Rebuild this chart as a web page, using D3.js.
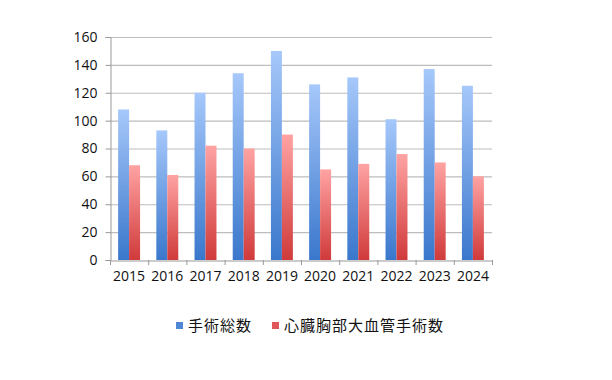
<!DOCTYPE html>
<html><head><meta charset="utf-8">
<script src="https://cdn.jsdelivr.net/npm/d3@7"></script>
<style>body{margin:0;background:#fff}</style>
</head><body>
<svg id="c" width="612" height="380"></svg>
<script>
const years = ["2015","2016","2017","2018","2019","2020","2021","2022","2023","2024"];
const totalSurgeries = [108,93,120,134,150,126,131,101,137,125];
const cardioSurgeries = [68,61,82,80,90,65,69,76,70,60];
const seriesNames = ["手術総数","心臓胸部大血管手術数"];
const yTicks = [0,20,40,60,80,100,120,140,160];

const svg = d3.select("#c");
const m = {left:110, right:120, top:37, bottom:120};
const W = 612, H = 380;
const x = d3.scaleBand().domain(years).range([m.left, W - m.right]).paddingInner(0).paddingOuter(0);
const y = d3.scaleLinear().domain([0,160]).range([H - m.bottom, m.top]);
const xs = d3.scaleBand().domain([0,1]).range([0, x.bandwidth()]).paddingInner(0).paddingOuter(0.74);

const defs = svg.append("defs");
const g1 = defs.append("linearGradient").attr("id","gb").attr("x1",0).attr("y1",0).attr("x2",0).attr("y2",1);
g1.append("stop").attr("offset","0%").attr("stop-color","#a6c8fa");
g1.append("stop").attr("offset","100%").attr("stop-color","#3a77cc");
const g2 = defs.append("linearGradient").attr("id","gr").attr("x1",0).attr("y1",0).attr("x2",0).attr("y2",1);
g2.append("stop").attr("offset","0%").attr("stop-color","#ffa3a3");
g2.append("stop").attr("offset","100%").attr("stop-color","#d03a3a");

// gridlines
svg.append("g").selectAll("line").data(yTicks.filter(d=>d>0)).join("line")
  .attr("x1", m.left).attr("x2", W - m.right)
  .attr("y1", d=>y(d)+0.5).attr("y2", d=>y(d)+0.5)
  .attr("stroke","#bdbdbd").attr("stroke-width",1.2);

// bars
const data = years.map((yr,i)=>({yr, vals:[totalSurgeries[i], cardioSurgeries[i]]}));
const grp = svg.append("g").selectAll("g").data(data).join("g")
  .attr("transform", d=>`translate(${x(d.yr)},0)`);
grp.selectAll("rect").data(d=>d.vals.map((v,k)=>({v,k}))).join("rect")
  .attr("x", d=>xs(d.k)).attr("width", xs.bandwidth())
  .attr("y", d=>y(d.v)).attr("height", d=>y(0)-y(d.v))
  .attr("fill", d=>d.k===0?"url(#gb)":"url(#gr)");

// axes
const yAxis = d3.axisLeft(y).tickValues(yTicks).tickSize(5).tickPadding(8);
const ya = svg.append("g").attr("transform",`translate(${m.left+0.5},0)`).call(yAxis);
ya.select(".domain").attr("stroke","#999");
ya.selectAll(".tick line").attr("stroke","#999");
ya.selectAll("text").attr("font-family","'Open Sans', sans-serif").attr("font-size",14).attr("fill","#111");

const xAxis = d3.axisBottom(x).tickSize(0).tickPadding(11);
const xa = svg.append("g").attr("transform",`translate(0,${y(0)+0.5})`).call(xAxis);
xa.select(".domain").attr("stroke","#999");
xa.selectAll("text").attr("font-family","'Open Sans', sans-serif").attr("font-size",14).attr("fill","#111");
// tick marks at category boundaries
const bounds = years.map(d=>x(d)).concat([x.range()[1]]);
svg.append("g").selectAll("line").data(bounds).join("line")
  .attr("x1", d=>d+0.5).attr("x2", d=>d+0.5)
  .attr("y1", y(0)).attr("y2", y(0)+5)
  .attr("stroke","#999");

// legend
const leg = svg.append("g").attr("font-family","'Noto Sans CJK JP', sans-serif").attr("font-size",15).attr("fill","#111");
const items = [{x:176, c:"#4f86d6"},{x:272, c:"#df5757"}];
items.forEach((it,i)=>{
  leg.append("rect").attr("x",it.x).attr("y",322).attr("width",7).attr("height",7).attr("fill",it.c);
  leg.append("text").attr("x",it.x+12).attr("y",331).attr("letter-spacing","1px").text(seriesNames[i]);
});
</script>
</body></html>
